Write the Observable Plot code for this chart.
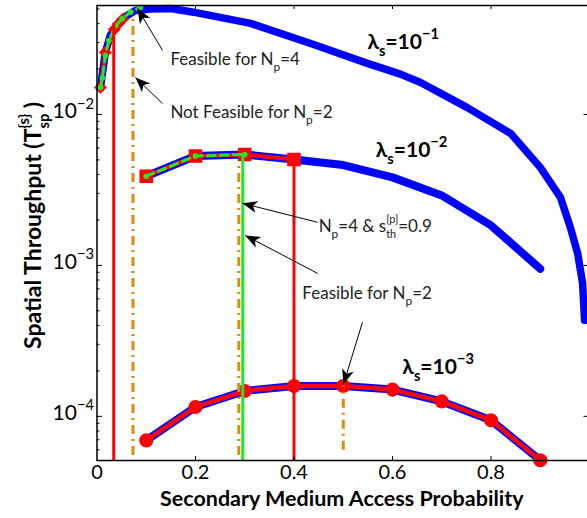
<!DOCTYPE html>
<html><head><meta charset="utf-8">
<script src="https://cdn.jsdelivr.net/npm/d3@7"></script>
<script src="https://cdn.jsdelivr.net/npm/@observablehq/plot@0.6"></script>
<style>html,body{margin:0;padding:0;background:#fff;overflow:hidden}</style>
</head><body><div id="chart"></div>
<script>
const FONT = "Lato, 'DejaVu Sans', sans-serif";

// secondary medium access probability samples (λs = 1e-2, 1e-3)
const accessProb = [0.1, 0.2, 0.3, 0.4, 0.5, 0.6, 0.7, 0.8, 0.9];
// spatial throughput, λs = 1e-2
const thrL2 = [3.90e-3, 5.30e-3, 5.43e-3, 5.03e-3, 4.62e-3, 3.83e-3, 2.91e-3, 1.84e-3, 9.5e-4];
// spatial throughput, λs = 1e-3
const thrL3 = [6.93e-5, 1.153e-4, 1.473e-4, 1.589e-4, 1.589e-4, 1.504e-4, 1.256e-4, 9.42e-5, 5.12e-5];
// λs = 1e-1 curve
const probL1 = [0.007, 0.017, 0.027, 0.042, 0.058, 0.078, 0.109, 0.15, 0.196, 0.312, 0.434, 0.549, 0.616, 0.657, 0.752, 0.84, 0.90, 0.941, 0.961, 0.976, 0.986, 0.990];
const thrL1 = [0.0151, 0.0258, 0.0334, 0.0394, 0.0446, 0.0489, 0.0500, 0.0503, 0.0476, 0.0401, 0.0295, 0.0218, 0.0185, 0.0163, 0.0111, 0.00748, 0.00446, 0.00282, 0.00179, 0.00120, 0.00076, 0.000433];
// feasible points, λs = 1e-1
const probL1Red = [0.007, 0.017, 0.035, 0.044, 0.052];
const thrL1Red = [0.0151, 0.0258, 0.0366, 0.0400, 0.0427];
const probL1Green = [0.007, 0.011, 0.017, 0.024, 0.038, 0.051, 0.068, 0.088];
const thrL1Green = [0.0151, 0.0175, 0.0245, 0.0309, 0.0388, 0.0430, 0.0476, 0.0512];
// feasible points, λs = 1e-2
const probL2Red = [0.1, 0.2, 0.3, 0.4];
const thrL2Red = [3.90e-3, 5.30e-3, 5.43e-3, 5.03e-3];
const probL2Green = [0.1, 0.2, 0.3];
const thrL2Green = [3.90e-3, 5.30e-3, 5.43e-3];
// vertical limit lines
const yBottom = 5.1e-5, yTop = 0.0527;
const redVX = [0.034, 0.4], redVTop = [0.040, 5.03e-3];
const greenVX = [0.296], greenVTop = [5.43e-3];
const orangeVX = [0.073, 0.288, 0.5];
const orangeVBottom = [5.5e-5, 5.5e-5, 5.96e-5];
const orangeVTop = [0.046, 4.84e-3, 1.589e-4];
// annotations
const annText = ["Feasible for N_[p]=4", "Not Feasible for N_[p]=2", "N_[p]=4 & s_[th]^[{p}]=0.9", "Feasible for N_[p]=2"];
const annX = [0.149, 0.149, 0.450, 0.417];
const annY = [0.0230, 0.0103, 0.00181, 6.5e-4];
const arrX1 = [0.133, 0.133, 0.448, 0.448, 0.539];
const arrY1 = [0.0266, 0.0118, 0.00193, 8.85e-4, 4.2e-4];
const arrX2 = [0.082, 0.078, 0.295, 0.301, 0.5005];
const arrY2 = [0.0505, 0.0176, 0.00258, 1.58e-3, 1.63e-4];
const curveLabel = ["λ_[s]=10^[−1]", "λ_[s]=10^[−2]", "λ_[s]=10^[−3]"];
const curveLabelX = [0.549, 0.566, 0.62];
const curveLabelY = [0.0302, 0.00578, 2.13e-4];
// axes
const xTicks = [0, 0.2, 0.4, 0.6, 0.8];
const xTickLabels = ["0", "0.2", "0.4", "0.6", "0.8"];
const xTopTicks = [0.2, 0.4, 0.6, 0.8];
const yTicks = [1e-4, 1e-3, 1e-2];
const yTickLabels = ["10^[−4]", "10^[−3]", "10^[−2]"];
const yMinor = [6e-5, 7e-5, 8e-5, 9e-5, 2e-4, 3e-4, 4e-4, 5e-4, 6e-4, 7e-4, 8e-4, 9e-4,
  2e-3, 3e-3, 4e-3, 5e-3, 6e-3, 7e-3, 8e-3, 9e-3, 2e-2, 3e-2, 4e-2, 5e-2];
const xTitle = "Secondary Medium Access Probability";
const yTitle = "Spatial Throughput (T_[sp]^[{s}] )";

const pts = (xs, ys) => xs.map((x, i) => ({x, y: ys[i]}));
const c1 = pts(probL1, thrL1), c2 = pts(accessProb, thrL2), c3 = pts(accessProb, thrL3);
const r1 = pts(probL1Red, thrL1Red), g1 = pts(probL1Green, thrL1Green);
const r2 = pts(probL2Red, thrL2Red), g2 = pts(probL2Green, thrL2Green);
const redV = redVX.map((x, i) => ({x, y1: yBottom, y2: redVTop[i]}));
const greenV = greenVX.map((x, i) => ({x, y1: yBottom, y2: greenVTop[i]}));
const orangeV = orangeVX.map((x, i) => ({x, y1: orangeVBottom[i], y2: orangeVTop[i]}));
const arrows = arrX1.map((x, i) => ({x1: x, y1: arrY1[i], x2: arrX2[i], y2: arrY2[i]}));
const anns = annText.map((t, i) => ({t, x: annX[i], y: annY[i]}));
const labels = curveLabel.map((t, i) => ({t, x: curveLabelX[i], y: curveLabelY[i]}));

const BLUE = "#0000ff", RED = "#ff0000", GREEN = "#22e822", ORANGE = "#e0880f";

const chart = Plot.plot({
  width: 587, height: 518,
  marginLeft: 96.5, marginRight: -2, marginTop: 5, marginBottom: 58,
  x: {domain: [0, 1], axis: null},
  y: {type: "log", domain: [yBottom, yTop], axis: null},
  style: {fontFamily: FONT, background: "white", overflow: "hidden"},
  marks: [
    Plot.line(c1, {x: "x", y: "y", stroke: BLUE, strokeWidth: 7.5}),
    Plot.line(c2, {x: "x", y: "y", stroke: BLUE, strokeWidth: 8}),
    Plot.line(c3, {x: "x", y: "y", stroke: BLUE, strokeWidth: 8}),
    Plot.line(r1, {x: "x", y: "y", stroke: RED, strokeWidth: 4}),
    Plot.dot(r1, {x: "x", y: "y", symbol: "diamond2", r: 4.8, fill: RED, stroke: RED}),
    Plot.line(r2, {x: "x", y: "y", stroke: RED, strokeWidth: 4}),
    Plot.dot(r2, {x: "x", y: "y", symbol: "square", r: 6.8, fill: RED, stroke: RED}),
    Plot.line(c3, {x: "x", y: "y", stroke: RED, strokeWidth: 4.5}),
    Plot.dot(c3, {x: "x", y: "y", r: 6.3, fill: RED, stroke: RED}),
    Plot.line(g1, {x: "x", y: "y", stroke: GREEN, strokeWidth: 3, strokeDasharray: "8,5"}),
    Plot.dot(g1, {x: "x", y: "y", r: 2.8, fill: GREEN}),
    Plot.line(g2, {x: "x", y: "y", stroke: GREEN, strokeWidth: 3, strokeDasharray: "8,5"}),
    Plot.dot(g2, {x: "x", y: "y", r: 2.8, fill: GREEN}),
    Plot.ruleX(orangeV, {x: "x", y1: "y1", y2: "y2", stroke: ORANGE, strokeWidth: 3, strokeDasharray: "9,5,2,5"}),
    Plot.ruleX(redV, {x: "x", y1: "y1", y2: "y2", stroke: RED, strokeWidth: 3}),
    Plot.ruleX(greenV, {x: "x", y1: "y1", y2: "y2", stroke: GREEN, strokeWidth: 3}),
    Plot.link(arrows, {x1: "x1", y1: "y1", x2: "x2", y2: "y2", stroke: "black", strokeWidth: 1}),
    Plot.text(anns, {x: "x", y: "y", text: "t", textAnchor: "start", fontSize: 17, fill: "#222"}),
    Plot.text(labels, {x: "x", y: "y", text: "t", textAnchor: "start", fontSize: 21, fontWeight: "bold", fill: "black"}),
    // axes
    Plot.frame({stroke: "black", strokeWidth: 1.5}),
    Plot.ruleX(xTopTicks, {stroke: "black", insetTop: 451}),
    Plot.ruleX(xTopTicks, {stroke: "black", insetBottom: 451}),
    Plot.ruleY(yMinor, {stroke: "black", insetRight: 489.5}),
    Plot.ruleY(yTicks, {stroke: "black", insetRight: 487}),
    Plot.ruleY(yTicks, {stroke: "black", insetLeft: 487}),
    Plot.text(xTicks, {x: d => d, frameAnchor: "bottom", dy: 18, text: (d, i) => xTickLabels[i], fontSize: 20, fill: "black"}),
    Plot.text(yTicks, {y: d => d, frameAnchor: "left", dx: -3, dy: -3, textAnchor: "end", text: (d, i) => yTickLabels[i], fontSize: 21, fill: "black"}),
    Plot.text([xTitle], {x: 0.497, frameAnchor: "bottom", dy: 45, text: d => d, fontSize: 21.5, fontWeight: "bold", fill: "black"}),
    Plot.text([yTitle], {y: 0.00184, frameAnchor: "left", dx: -63, rotate: -90, textAnchor: "middle", text: d => d, fontSize: 23, fontWeight: "bold", fill: "black"})
  ]
});

document.getElementById("chart").append(chart);

const NS = "http://www.w3.org/2000/svg";
const svg = chart.tagName.toLowerCase() === "svg" ? chart : chart.querySelector("svg");
// arrowhead marker
const defs = document.createElementNS(NS, "defs");
const marker = document.createElementNS(NS, "marker");
marker.setAttribute("id", "ah");
marker.setAttribute("viewBox", "-17 -8 19 16");
marker.setAttribute("refX", "0");
marker.setAttribute("refY", "0");
marker.setAttribute("markerWidth", "19");
marker.setAttribute("markerHeight", "16");
marker.setAttribute("markerUnits", "userSpaceOnUse");
marker.setAttribute("orient", "auto");
const mp = document.createElementNS(NS, "path");
mp.setAttribute("d", "M0,0L-15,-6L-11,0L-15,6Z");
mp.setAttribute("fill", "black");
marker.appendChild(mp);
defs.appendChild(marker);
svg.insertBefore(defs, svg.firstChild);
svg.querySelectorAll('g[aria-label="link"] path').forEach(p => p.setAttribute("marker-end", "url(#ah)"));

// rich text: _[sub] and ^[sup]
function richify(el) {
  const s = el.textContent;
  if (!/[_^]\[/.test(s)) return;
  const fs = parseFloat(getComputedStyle(el).fontSize);
  const parts = [];
  const re = /([_^])\[([^\]]*)\]/g;
  let last = 0, m;
  while ((m = re.exec(s))) {
    if (m.index > last) parts.push({t: s.slice(last, m.index), k: "n"});
    parts.push({t: m[2], k: m[1] === "_" ? "sub" : "sup"});
    last = re.lastIndex;
  }
  if (last < s.length) parts.push({t: s.slice(last), k: "n"});
  el.textContent = "";
  let cur = 0, prev = null;
  for (const p of parts) {
    const ts = document.createElementNS(NS, "tspan");
    ts.textContent = p.t;
    const stacked = p.k === "sup" && prev && prev.k === "sub";
    const target = p.k === "sub" ? 0.34 * fs : p.k === "sup" ? (stacked ? -0.52 : -0.46) * fs : 0;
    ts.setAttribute("dy", (target - cur).toFixed(2));
    cur = target;
    if (p.k !== "n") ts.setAttribute("font-size", ((stacked || (parts.indexOf(p) > 0 && p.k === "sub" && parts[parts.indexOf(p) + 1] && parts[parts.indexOf(p) + 1].k === "sup") ? 0.64 : 0.7) * fs).toFixed(2));
    el.appendChild(ts);
    if (stacked) ts.setAttribute("dx", (-prev.w).toFixed(2));
    prev = {k: p.k, w: ts.getComputedTextLength()};
  }
}
svg.querySelectorAll("text").forEach(richify);
</script>
</body></html>
